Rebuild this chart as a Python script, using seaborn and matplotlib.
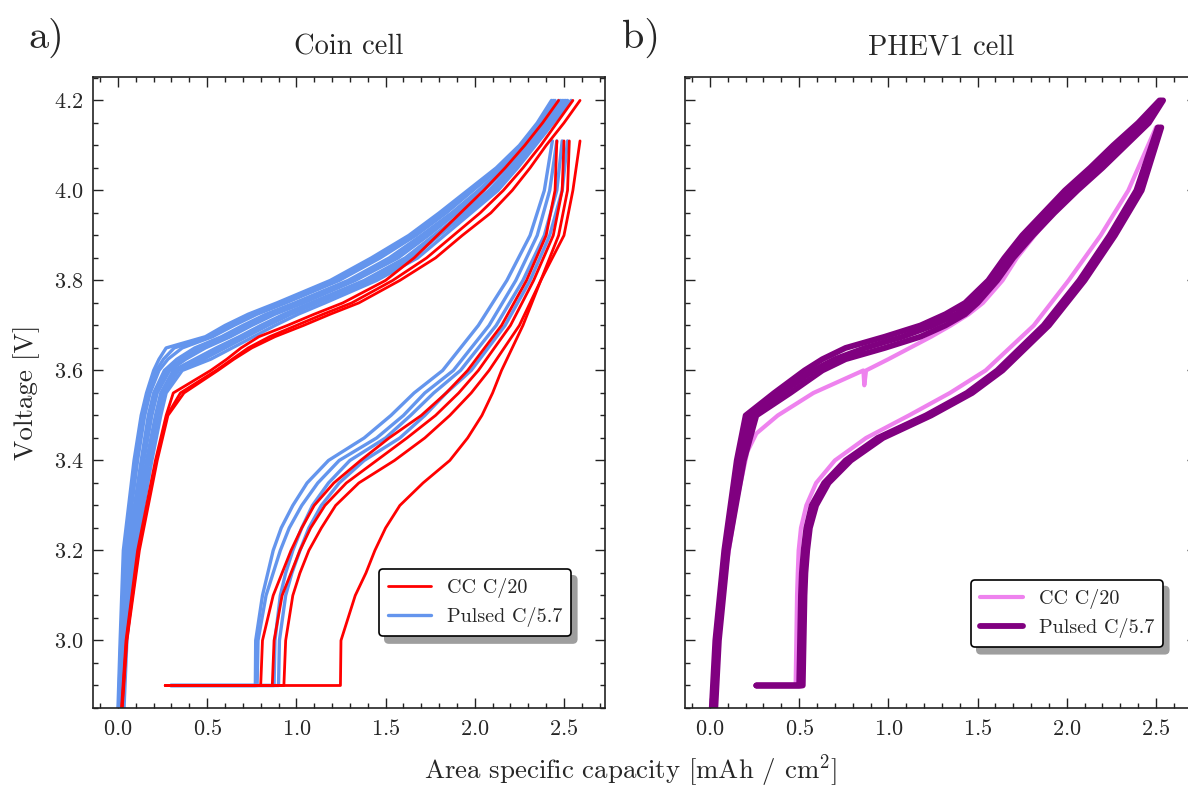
import numpy as np
import pandas as pd
import matplotlib
matplotlib.use("Agg")
import matplotlib.pyplot as plt
from matplotlib.patches import Shadow
from matplotlib.ticker import MultipleLocator
import seaborn as sns

CC = "CC C/20"
PULSED = "Pulsed C/5.7"

charge_v = [2.85, 3.0, 3.2, 3.4, 3.5, 3.55, 3.6, 3.625, 3.65, 3.675, 3.7,
            3.725, 3.75, 3.8, 3.85, 3.9, 3.95, 4.0, 4.05, 4.1, 4.15, 4.2]

coin_pulsed_charge = [
    [0.0, 0.012, 0.03, 0.09, 0.13, 0.16, 0.20, 0.23, 0.27, 0.49, 0.60, 0.73, 0.89, 1.19, 1.42, 1.63, 1.80, 1.96, 2.12, 2.25, 2.35, 2.43],
    [0.003, 0.016, 0.038, 0.10, 0.14, 0.17, 0.215, 0.255, 0.315, 0.51, 0.625, 0.755, 0.915, 1.215, 1.445, 1.65, 1.82, 1.975, 2.13, 2.26, 2.36, 2.44],
    [0.005, 0.02, 0.045, 0.11, 0.15, 0.18, 0.23, 0.28, 0.36, 0.53, 0.65, 0.78, 0.94, 1.24, 1.47, 1.67, 1.84, 1.99, 2.14, 2.27, 2.37, 2.45],
    [0.01, 0.025, 0.055, 0.13, 0.17, 0.20, 0.26, 0.33, 0.43, 0.58, 0.70, 0.83, 0.99, 1.29, 1.52, 1.70, 1.87, 2.02, 2.16, 2.29, 2.39, 2.47],
    [0.012, 0.028, 0.06, 0.138, 0.18, 0.21, 0.275, 0.355, 0.46, 0.605, 0.725, 0.855, 1.015, 1.31, 1.545, 1.72, 1.885, 2.035, 2.17, 2.295, 2.40, 2.48],
    [0.015, 0.03, 0.065, 0.145, 0.19, 0.22, 0.29, 0.38, 0.49, 0.63, 0.75, 0.88, 1.04, 1.33, 1.57, 1.74, 1.90, 2.05, 2.18, 2.30, 2.41, 2.49],
    [0.02, 0.038, 0.075, 0.16, 0.21, 0.24, 0.31, 0.43, 0.55, 0.68, 0.80, 0.93, 1.08, 1.38, 1.61, 1.77, 1.93, 2.08, 2.20, 2.32, 2.42, 2.50],
    [0.023, 0.041, 0.082, 0.168, 0.218, 0.248, 0.325, 0.455, 0.575, 0.70, 0.82, 0.95, 1.10, 1.40, 1.63, 1.785, 1.945, 2.095, 2.21, 2.325, 2.425, 2.51],
    [0.027, 0.044, 0.088, 0.175, 0.225, 0.255, 0.34, 0.48, 0.60, 0.72, 0.84, 0.97, 1.12, 1.42, 1.65, 1.80, 1.96, 2.11, 2.22, 2.33, 2.43, 2.52],
    [0.034, 0.05, 0.10, 0.19, 0.24, 0.27, 0.36, 0.52, 0.64, 0.76, 0.88, 1.01, 1.16, 1.45, 1.68, 1.83, 1.98, 2.13, 2.24, 2.34, 2.44, 2.54],
]
coin_cc_charge = [
    [0.024, 0.05, 0.12, 0.22, 0.28, 0.37, 0.56, 0.65, 0.75, 0.88, 1.04, 1.19, 1.35, 1.58, 1.78, 1.93, 2.09, 2.21, 2.31, 2.40, 2.50, 2.59],
    [0.02, 0.045, 0.11, 0.21, 0.27, 0.31, 0.52, 0.61, 0.69, 0.79, 0.95, 1.10, 1.26, 1.50, 1.66, 1.79, 1.92, 2.05, 2.17, 2.28, 2.38, 2.47],
    [0.022, 0.048, 0.115, 0.215, 0.275, 0.35, 0.55, 0.64, 0.73, 0.85, 1.00, 1.15, 1.31, 1.54, 1.73, 1.88, 2.03, 2.16, 2.27, 2.37, 2.46, 2.55],
]

coin_discharge_v = [2.9, 3.0, 3.1, 3.15, 3.2, 3.25, 3.3, 3.35, 3.4, 3.45, 3.5, 3.55, 3.6, 3.7, 3.8, 3.9, 4.0, 4.11]
coin_pulsed_discharge = [
    [0.77, 0.772, 0.81, 0.84, 0.87, 0.915, 0.98, 1.06, 1.18, 1.38, 1.53, 1.66, 1.82, 2.02, 2.18, 2.31, 2.39, 2.435],
    [0.78, 0.785, 0.83, 0.87, 0.91, 0.96, 1.03, 1.12, 1.24, 1.45, 1.60, 1.72, 1.88, 2.08, 2.23, 2.35, 2.42, 2.46],
    [0.875, 0.88, 0.91, 0.94, 0.98, 1.03, 1.09, 1.18, 1.30, 1.50, 1.64, 1.77, 1.92, 2.12, 2.27, 2.39, 2.46, 2.49],
    [0.90, 0.905, 0.94, 0.975, 1.02, 1.07, 1.14, 1.24, 1.38, 1.58, 1.72, 1.84, 1.98, 2.17, 2.31, 2.42, 2.49, 2.52],
]
coin_cc_discharge = [
    [0.80, 0.81, 0.87, 0.92, 0.97, 1.03, 1.10, 1.21, 1.36, 1.52, 1.70, 1.84, 1.96, 2.15, 2.29, 2.40, 2.45, 2.46],
    [0.865, 0.875, 0.92, 0.97, 1.02, 1.08, 1.16, 1.28, 1.45, 1.62, 1.78, 1.91, 2.02, 2.20, 2.33, 2.44, 2.49, 2.50],
    [0.93, 0.94, 0.98, 1.02, 1.07, 1.14, 1.22, 1.35, 1.55, 1.72, 1.86, 1.98, 2.08, 2.25, 2.37, 2.47, 2.52, 2.53],
    [1.247, 1.25, 1.33, 1.39, 1.44, 1.50, 1.58, 1.71, 1.86, 1.96, 2.04, 2.10, 2.15, 2.27, 2.37, 2.50, 2.55, 2.59],
]
coin_pulsed_rest_start = 0.295
coin_cc_rest_start = 0.265

phev_pulsed_charge = [
    [0.01, 0.03, 0.08, 0.15, 0.20, 0.36, 0.53, 0.63, 0.76, 0.98, 1.18, 1.32, 1.43, 1.56, 1.65, 1.75, 1.87, 1.99, 2.13, 2.26, 2.40, 2.52],
    [0.02, 0.04, 0.09, 0.17, 0.23, 0.40, 0.58, 0.70, 0.87, 1.08, 1.25, 1.38, 1.47, 1.59, 1.68, 1.78, 1.90, 2.03, 2.17, 2.30, 2.43, 2.53],
    [0.03, 0.05, 0.10, 0.19, 0.26, 0.45, 0.63, 0.76, 0.98, 1.18, 1.32, 1.43, 1.50, 1.61, 1.70, 1.81, 1.93, 2.06, 2.20, 2.33, 2.46, 2.54],
]
phev_cc_charge_q = [0.02, 0.04, 0.09, 0.15, 0.21, 0.26, 0.38, 0.58, 0.86, 0.865, 0.875, 1.0, 1.12, 1.24,
                    1.35, 1.45, 1.53, 1.64, 1.72, 1.82, 1.93, 2.06, 2.19, 2.32, 2.44, 2.52]
phev_cc_charge_v = [2.85, 2.98, 3.16, 3.31, 3.42, 3.46, 3.50, 3.55, 3.60, 3.567, 3.60, 3.625, 3.65, 3.675,
                    3.70, 3.725, 3.75, 3.80, 3.85, 3.90, 3.95, 4.00, 4.05, 4.10, 4.15, 4.20]

phev_discharge_v = [2.9, 3.0, 3.1, 3.15, 3.2, 3.25, 3.3, 3.35, 3.4, 3.45, 3.5, 3.55, 3.6, 3.7, 3.8, 3.9, 4.0, 4.14]
phev_pulsed_discharge = [
    [0.50, 0.505, 0.51, 0.515, 0.525, 0.54, 0.57, 0.64, 0.76, 0.94, 1.21, 1.44, 1.61, 1.87, 2.07, 2.24, 2.39, 2.51],
    [0.51, 0.515, 0.52, 0.525, 0.535, 0.55, 0.58, 0.65, 0.77, 0.95, 1.22, 1.45, 1.62, 1.88, 2.08, 2.25, 2.40, 2.52],
    [0.52, 0.525, 0.53, 0.535, 0.545, 0.56, 0.595, 0.665, 0.79, 0.97, 1.24, 1.47, 1.64, 1.90, 2.10, 2.27, 2.42, 2.53],
]
phev_cc_discharge = [
    [0.48, 0.484, 0.488, 0.492, 0.497, 0.51, 0.54, 0.595, 0.70, 0.875, 1.115, 1.345, 1.545, 1.815, 2.01, 2.19, 2.345, 2.50],
]
phev_rest_start = 0.26


def curves_frame(sets):
    rows = []
    n = 0
    for label, xs_list, ys, rest in sets:
        for xs in xs_list:
            yy = list(ys)
            if rest is not None:
                xs = [rest] + list(xs)
                yy = [2.9] + yy
            for q, v in zip(xs, yy):
                rows.append({"q": q, "v": v, "protocol": label, "curve": n})
            n += 1
    return pd.DataFrame(rows)


coin_df = curves_frame([
    (PULSED, coin_pulsed_charge, charge_v, None),
    (PULSED, coin_pulsed_discharge, coin_discharge_v, coin_pulsed_rest_start),
    (CC, coin_cc_charge, charge_v, None),
    (CC, coin_cc_discharge, coin_discharge_v, coin_cc_rest_start),
])
phev_df = curves_frame([
    (CC, [phev_cc_charge_q], phev_cc_charge_v, None),
    (CC, phev_cc_discharge, phev_discharge_v, phev_rest_start),
    (PULSED, phev_pulsed_charge, charge_v, None),
    (PULSED, phev_pulsed_discharge, phev_discharge_v, phev_rest_start),
])

sns.set_style("ticks")
plt.rcParams["font.family"] = ["cmr10", "DejaVu Serif"]
plt.rcParams["mathtext.fontset"] = "cm"
plt.rcParams["axes.formatter.use_mathtext"] = True
plt.rcParams["axes.unicode_minus"] = False

fig = plt.figure(figsize=(11.88, 7.89), dpi=100)
ax1 = fig.add_axes([93 / 1188, 1 - 708 / 789, 512 / 1188, 631 / 789])
ax2 = fig.add_axes([685 / 1188, 1 - 708 / 789, 512 / 1188, 631 / 789], sharey=ax1)


def style_axes(ax):
    ax.set_xlim(-0.14, 2.73)
    ax.set_ylim(2.85, 4.252)
    ax.xaxis.set_major_locator(MultipleLocator(0.5))
    ax.xaxis.set_minor_locator(MultipleLocator(0.1))
    ax.yaxis.set_major_locator(MultipleLocator(0.2))
    ax.yaxis.set_minor_locator(MultipleLocator(0.05))
    ax.tick_params(which="both", direction="in", top=True, right=True,
                   color="#222222", width=1.0, labelsize=16)
    ax.tick_params(which="major", length=7)
    ax.tick_params(which="minor", length=3.5)
    ax.tick_params(axis="x", which="major", pad=8)
    ax.tick_params(axis="y", which="major", pad=7)
    for s in ax.spines.values():
        s.set_linewidth(1.2)
        s.set_color("#222222")
    ax.set_xlabel("")
    ax.set_ylabel("")


def add_legend(ax, order, anchor):
    handles, labels = ax.get_legend_handles_labels()
    hl = dict(zip(labels, handles))
    leg = ax.legend([hl[k] for k in order], order, loc="lower right",
                    bbox_to_anchor=anchor, borderaxespad=0, fontsize=14.5,
                    frameon=True, fancybox=True, framealpha=1, edgecolor="black",
                    handlelength=2.1, handletextpad=0.8, labelspacing=0.45,
                    borderpad=0.45)
    leg.get_frame().set_linewidth(1.2)
    leg.set_zorder(10)
    sh = Shadow(leg.legendPatch, 4, -5, facecolor="0.62", edgecolor="0.62", alpha=1)
    sh.set_zorder(9)
    ax.add_artist(sh)
    return leg


coin_colors = {PULSED: "cornflowerblue", CC: "red"}
phev_colors = {PULSED: "purple", CC: "violet"}
sns.lineplot(data=coin_df[coin_df["protocol"] == PULSED], x="q", y="v", hue="protocol",
             palette=coin_colors, units="curve", estimator=None, sort=False,
             lw=2.4, ax=ax1)
sns.lineplot(data=coin_df[coin_df["protocol"] == CC], x="q", y="v", hue="protocol",
             palette=coin_colors, units="curve", estimator=None, sort=False,
             lw=2.0, ax=ax1)
sns.lineplot(data=phev_df[phev_df["protocol"] == CC], x="q", y="v", hue="protocol",
             palette=phev_colors, units="curve", estimator=None, sort=False,
             lw=3.0, ax=ax2)
sns.lineplot(data=phev_df[phev_df["protocol"] == PULSED], x="q", y="v", hue="protocol",
             palette=phev_colors, units="curve", estimator=None, sort=False,
             lw=4.2, ax=ax2)

style_axes(ax1)
style_axes(ax2)
ax2.tick_params(labelleft=False)

add_legend(ax1, [CC, PULSED], (0.934, 0.114))
add_legend(ax2, [CC, PULSED], (0.934, 0.097))

ax1.set_title("Coin cell", fontsize=20.5, pad=16)
ax2.set_title("PHEV1 cell", fontsize=20.5, pad=16)
ax1.set_ylabel("Voltage [V]", fontsize=19.5)
ax1.yaxis.set_label_coords(-0.104, 0.5)
fig.text(631 / 1188, 1 - 771 / 789, r"Area specific capacity [mAh / cm$^2$]",
         ha="center", va="center", fontsize=19.3)
fig.text(46 / 1188, 1 - 38 / 789, "a)", ha="center", va="center", fontsize=29)
fig.text(641 / 1188, 1 - 38 / 789, "b)", ha="center", va="center", fontsize=29)

fig.canvas.draw()
fig.savefig("out.png", dpi=100)
